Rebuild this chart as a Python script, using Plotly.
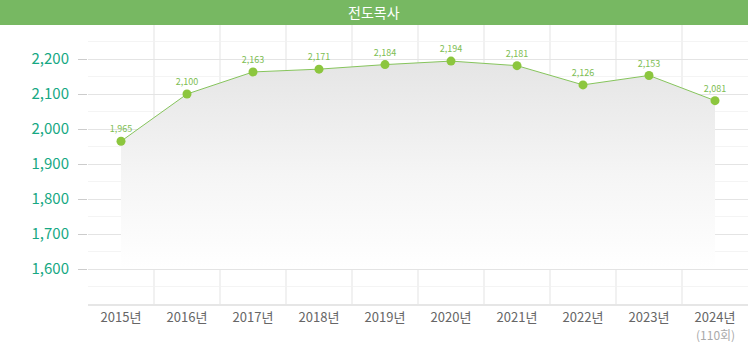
import plotly.graph_objects as go

# Yearly count of 전도목사 (evangelist pastors)
years = ["2015년", "2016년", "2017년", "2018년", "2019년",
         "2020년", "2021년", "2022년", "2023년", "2024년"]
counts = [1965, 2100, 2163, 2171, 2184, 2194, 2181, 2126, 2153, 2081]
last_note = "(110회)"
y_ticks = [1600, 1700, 1800, 1900, 2000, 2100, 2200]
baseline = 1600
title_text = "전도목사"

W, H = 748, 342
ML, MR, MT, MB = 88, 0, 24, 38
PW, PH = W - ML - MR, H - MT - MB
HEADER_PX = 25

GREEN_LINE = "#86c45c"
GREEN_DOT = "#8cc63e"
TEAL = "#16a883"
FONT = "Noto Sans CJK KR, Noto Sans, sans-serif"

fig = go.Figure()

# invisible baseline the shaded area fills down to
fig.add_trace(go.Scatter(
    x=years, y=[baseline] * len(years), mode="lines",
    line=dict(width=0), hoverinfo="skip", showlegend=False,
))

# main series with gradient area, markers and value labels
fig.add_trace(go.Scatter(
    x=years, y=counts, mode="lines+markers+text",
    fill="tonexty",
    fillgradient=dict(type="vertical",
                      colorscale=[[0, "rgba(255,255,255,1)"],
                                  [0.45, "rgba(245,245,245,1)"],
                                  [1, "rgba(229,229,229,1)"]]),
    line=dict(color=GREEN_LINE, width=1),
    marker=dict(color=GREEN_DOT, size=9),
    text=[f"{v:,}" for v in counts], textposition="top center",
    textfont=dict(family=FONT, size=9, color="#7dbd52"),
    showlegend=False,
))

fig.update_layout(
    width=W, height=H,
    margin=dict(l=ML, r=MR, t=MT, b=MB, pad=0),
    paper_bgcolor="white", plot_bgcolor="white",
    font=dict(family=FONT),
    xaxis=dict(
        type="category", range=[-0.5, len(years) - 0.5],
        tickson="boundaries", ticks="", showgrid=True,
        gridcolor="#f1f1f1", gridwidth=2,
        showline=True, linecolor="#e6e6e6", linewidth=2,
        tickfont=dict(family=FONT, size=13, color="#666666"),
        zeroline=False, fixedrange=True,
    ),
    yaxis=dict(
        range=[1500, 2300], tickmode="array", tickvals=y_ticks,
        ticktext=[f"{v:,}" for v in y_ticks],
        ticks="outside", ticklen=9, tickcolor="#cccccc", tickwidth=1,
        ticklabelstandoff=6,
        showgrid=True, gridcolor="#e4e4e4", gridwidth=1,
        minor=dict(dtick=50, showgrid=True, gridcolor="#f4f4f4", gridwidth=1),
        showline=False, zeroline=False,
        tickfont=dict(family=FONT, size=15, color=TEAL),
        fixedrange=True,
    ),
)

# note under the last year's label
fig.add_annotation(
    xref="x", yref="paper", x=years[-1], y=-(334 - (H - MB)) / PH,
    text=last_note, showarrow=False, xanchor="center", yanchor="middle",
    borderpad=0, font=dict(family=FONT, size=12, color="#aaaaaa"),
)

# green header bar with the title
fig.add_shape(
    type="rect", xref="paper", yref="paper", layer="above",
    x0=-ML / PW, x1=1, y0=1 - (HEADER_PX - MT) / PH, y1=1 + MT / PH,
    fillcolor="#77b862", line=dict(width=0),
)
fig.add_annotation(
    xref="paper", yref="paper", x=(W / 2 - ML) / PW, y=1 + (MT - HEADER_PX / 2) / PH,
    text=title_text, showarrow=False, xanchor="center", yanchor="middle",
    font=dict(family=FONT, size=14, color="white"),
)

fig.write_html("out.html")
